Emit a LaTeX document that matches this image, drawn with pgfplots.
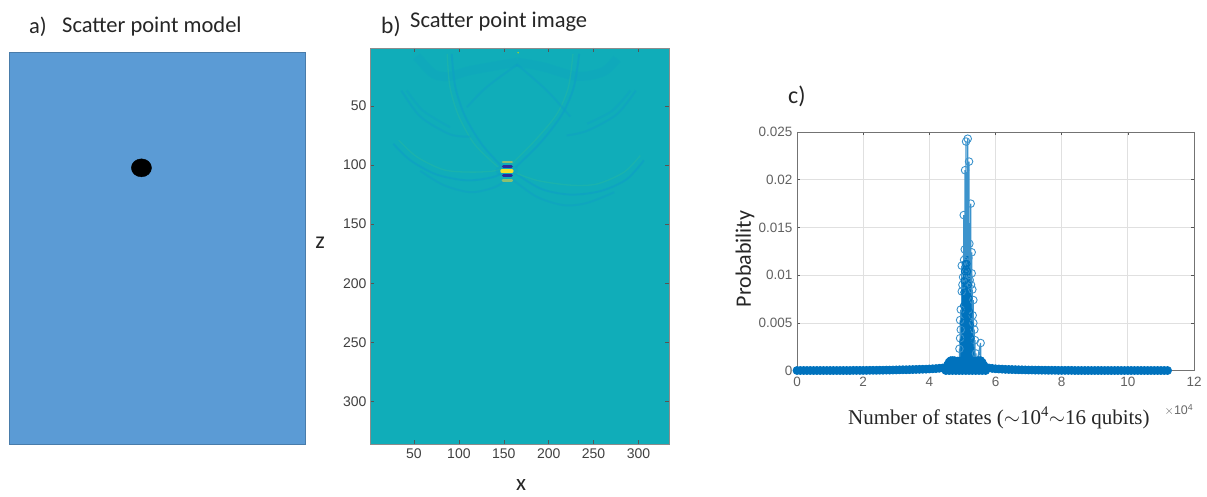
\documentclass[border=0pt]{standalone}
\usepackage{pgfplots}
\pgfplotsset{compat=1.18}
\usepackage{fontspec}
\setmainfont{Carlito}
\newfontfamily\ticks{Liberation Sans}
\newfontfamily\serifl{Liberation Serif}
\definecolor{modelblue}{HTML}{5B9BD5}
\definecolor{teal0}{HTML}{10ADB9}
\definecolor{arcd}{HTML}{0E9FC6}
\definecolor{arcl}{HTML}{22B6A6}
\definecolor{mblue}{HTML}{0072BD}
\definecolor{mlight}{HTML}{3C93CC}
\definecolor{tickgray}{HTML}{555555}
\definecolor{fringe}{HTML}{8CC070}
\definecolor{core}{HTML}{2B2A9A}
\definecolor{hot}{HTML}{F5E02A}
\pgfplotsset{
  a/.style={no marks,smooth,arcd,line width=2pt,opacity=.6},
  l/.style={no marks,smooth,arcl,line width=1.3pt,opacity=.6},
  blob/.style={no marks,line cap=round}
}
\begin{document}
\begin{tikzpicture}[x=1pt,y=1pt]
\path (0,0) rectangle (1207,497);
% panel a
\begin{axis}[at={(9pt,53pt)},anchor=south west,scale only axis,width=296pt,height=392pt,
  xmin=1,xmax=334,ymin=1,ymax=336,y dir=reverse,ticks=none,
  axis background/.style={fill=modelblue},axis line style={draw=modelblue!80!black,line width=.4pt}]
\addplot[only marks,mark=*,mark size=9pt,mark options={xscale=1.12,fill=black,draw=black}] coordinates {(150,100)};
\end{axis}
% panel b
\begin{axis}[at={(370pt,53pt)},anchor=south west,scale only axis,width=299pt,height=396pt,
  xmin=1,xmax=334,ymin=1,ymax=336,y dir=reverse,
  xtick={50,100,...,300},ytick={50,100,...,300},
  tick align=inside,major tick length=4pt,
  every tick/.style={draw=tickgray,line width=.5pt},
  axis background/.style={fill=teal0},axis line style={draw=black!45,line width=.6pt},
  /pgf/number format/assume math mode=true,
  tick label style={font=\ticks\fontsize{14}{16}\selectfont,text=black!75},
  xticklabel style={yshift=-1pt},
  clip=true]
\addplot[a,line width=9pt,opacity=.22] coordinates {(53,8)(72,23)(90,25)(113,20)(165,13)};
\addplot[a,line width=9pt,opacity=.22] coordinates {(276,10)(261,21)(232,25)(194,17)(165,13)};
\addplot[a] coordinates {(92,6)(96,34)(107,59)(126,83)(150,103)};
\addplot[l] coordinates {(87,6)(90,34)(100,59)(118,83)(144,102)};
\addplot[a] coordinates {(234,6)(228,34)(215,57)(191,81)(163,102)};
\addplot[l] coordinates {(227,6)(222,34)(209,57)(185,79)(159,99)};
\addplot[a] coordinates {(27,82)(46,96)(75,108)(109,113)(139,110)(157,103)};
\addplot[l] coordinates {(33,79)(53,93)(83,104)(113,106)(139,105)(150,102)};
\addplot[a,opacity=.45] coordinates {(57,105)(83,117)(113,123)(139,119)(154,112)};
\addplot[a] coordinates {(306,96)(287,112)(258,122)(224,125)(191,120)(159,105)};
\addplot[l] coordinates {(302,92)(284,106)(254,116)(224,117)(187,113)(161,106)};
\addplot[a,opacity=.45] coordinates {(273,123)(243,132)(217,134)(187,127)(161,113)};
\addplot[a,opacity=.45] coordinates {(36,37)(57,59)(90,74)(113,76)};
\addplot[a,opacity=.35] coordinates {(42,37)(60,54)(90,68)};
\addplot[a,opacity=.45] coordinates {(297,37)(276,57)(243,71)(220,75)};
\addplot[a,opacity=.35] coordinates {(291,37)(271,54)(243,65)};
\addplot[a,opacity=.45] coordinates {(165,15)(131,34)(109,51)};
\addplot[a,opacity=.45] coordinates {(165,15)(198,37)(224,59)};
\addplot[blob,color=arcd,line width=9pt,opacity=.35] coordinates {(146,105)(161,105)};
\addplot[blob,color=fringe,line width=2.4pt] coordinates {(149,97.6)(159,97.6)};
\addplot[blob,color=fringe,line width=2.4pt] coordinates {(149,113)(159,113)};
\addplot[blob,color=core,line width=2.8pt] coordinates {(149.5,101.3)(158.5,101.3)};
\addplot[blob,color=core,line width=2.8pt] coordinates {(149.5,109)(158.5,109)};
\addplot[blob,color=hot,line width=3.4pt] coordinates {(148,105.2)(159,105.2)};
\addplot[only marks,mark=*,mark size=.5pt,color=yellow!70!green] coordinates {(166,5)};
\end{axis}
% panel c
\begin{axis}[at={(797pt,126.3pt)},anchor=south west,scale only axis,width=397pt,height=238.7pt,
  xmin=0,xmax=120000,ymin=0,ymax=0.025,
  xtick={0,20000,40000,60000,80000,100000,120000},xticklabels={0,2,4,6,8,10,12},
  ytick={0,0.005,0.01,0.015,0.02,0.025},yticklabels={0,0.005,0.01,0.015,0.02,0.025},
  scaled ticks=false,grid=major,
  grid style={draw=black!12,line width=.8pt},
  tick align=inside,major tick length=3pt,
  every tick/.style={draw=tickgray,line width=.5pt},
  axis line style={draw=black!55,line width=.8pt},
  /pgf/number format/assume math mode=true,
  tick label style={font=\ticks\fontsize{13.5}{15}\selectfont,text=black!62},
  xticklabel style={yshift=-3pt},yticklabel style={xshift=-1pt},
  clip=false]
% stems of the central peak
\addplot[mlight,line width=1.2pt,mark=o,mark size=3.8pt,mark options={line width=.9pt,draw=mlight}] coordinates {
(49100,.0023)(49150,.0005)(49300,.0034)(49350,.0005)(49300,.0053)(49400,.0005)(49500,.0043)(49550,.0005)(49500,.0064)(49600,.0005)
(49800,.0083)(49850,.0005)(49800,.0110)(49900,.0005)(50000,.0090)(50050,.0005)(50200,.0098)(50250,.0005)(50400,.0163)(50450,.0005)
(50500,.0116)(50550,.0005)(50700,.0127)(50750,.0005)(50800,.0210)(50850,.0005)(50900,.0105)(50950,.0005)(51100,.0240)(51150,.0005)
(51200,.0108)(51250,.0005)(51300,.0120)(51350,.0005)(51600,.0243)(51650,.0005)(51700,.0100)(51750,.0005)(51800,.0118)(51850,.0005)
(52000,.0219)(52050,.0005)(52100,.0133)(52150,.0005)(52200,.0095)(52250,.0005)(52500,.0175)(52550,.0005)(52600,.0090)(52650,.0005)
(52800,.0124)(52850,.0005)(52800,.0102)(52900,.0005)(53000,.0085)(53050,.0005)(53100,.0058)(53150,.0005)(53300,.0074)(53350,.0005)
(53300,.0050)(53400,.0005)(53600,.0043)(53650,.0005)(53800,.0032)(53850,.0005)(54100,.0018)(54150,.0005)(55500,.0029)(55550,.0005)};
% dense core
\addplot[mblue,line width=1.8pt,no marks] coordinates {
(49600,.001)(49700,.0035)(49800,.001)(49900,.0055)(50000,.001)(50100,.0085)(50200,.001)(50300,.0095)(50400,.001)(50500,.0105)
(50600,.001)(50700,.0110)(50800,.001)(50900,.0115)(51000,.001)(51100,.0118)(51200,.001)(51300,.0120)(51400,.001)(51500,.0120)
(51600,.001)(51700,.0115)(51800,.001)(51900,.0110)(52000,.001)(52100,.0105)(52200,.001)(52300,.0085)(52400,.001)(52500,.0075)
(52600,.001)(52700,.0060)(52800,.001)(52900,.0045)(53000,.001)(53100,.0035)(53200,.001)(53300,.0025)(53400,.001)};
\addplot[only marks,mark=o,mark size=3.4pt,mark options={line width=.9pt,draw=mblue}] coordinates {
(50200,.0030)(50300,.0050)(50400,.0068)(50500,.0082)(50600,.0094)(50700,.0104)(50900,.0112)(51100,.0106)(51300,.0112)(51500,.0104)
(51700,.0090)(51900,.0076)(52100,.0062)(52300,.0048)(52500,.0034)(50800,.0060)(51000,.0080)(51200,.0070)(51400,.0056)(51600,.0036)(51800,.0044)(52000,.0030)};
% the band of all other states
\addplot[mblue,line width=1pt,mark=*,mark size=4pt,mark options={line width=.8pt,draw=mblue,fill=mblue}] coordinates {
(0,.00002)(1000,.00002)(2000,.00002)(3000,.00002)(4000,.00002)(5000,.00002)(6000,.00002)(7000,.00002)(8000,.00002)(9000,.00002)
(10000,.00002)(11000,.00002)(12000,.00002)(13000,.00002)(14000,.00002)(15000,.00002)(16000,.00002)(17000,.00003)(18000,.00003)(19000,.00003)
(20000,.00003)(21000,.00003)(22000,.00004)(23000,.00004)(24000,.00004)(25000,.00005)(26000,.00005)(27000,.00006)(28000,.00006)(29000,.00007)
(30000,.00008)(31000,.00009)(32000,.0001)(33000,.0001)(34000,.00011)(35000,.00012)(36000,.00013)(37000,.00014)(38000,.00015)(39000,.00016)
(40000,.00018)(41000,.0002)(42000,.00022)(43000,.00025)(44000,.00028)(45000,.00035)(45500,.0006)(46000,.0009)(46500,.00105)(47000,.00105)
(47500,.00105)(48000,.001)(48500,.001)(49000,.001)(49500,.001)(50000,.001)(50500,.001)(51000,.001)(51500,.001)(52000,.001)
(52500,.001)(53000,.001)(53500,.001)(54000,.001)(54500,.001)(55000,.00105)(55500,.00105)(56000,.00085)(56500,.00055)(57000,.00035)
(58000,.00028)(59000,.00024)(60000,.0002)(61000,.00018)(62000,.00016)(63000,.00014)(64000,.00013)(65000,.00012)(66000,.00011)(67000,.0001)
(68000,.00009)(69000,.00008)(70000,.00007)(71000,.00007)(72000,.00006)(73000,.00006)(74000,.00005)(75000,.00005)(76000,.00004)(77000,.00004)
(78000,.00004)(79000,.00003)(80000,.00003)(81000,.00003)(82000,.00003)(83000,.00003)(84000,.00002)(85000,.00002)(86000,.00002)(87000,.00002)
(88000,.00002)(89000,.00002)(90000,.00002)(91000,.00002)(92000,.00002)(93000,.00002)(94000,.00002)(95000,.00002)(96000,.00002)(97000,.00002)
(98000,.00002)(99000,.00002)(100000,.00002)(101000,.00002)(102000,.00002)(103000,.00002)(104000,.00002)(105000,.00002)(106000,.00002)(107000,.00002)
(108000,.00002)(109000,.00002)(110000,.00002)(111000,.00002)(112000,.00002)};
% states at the foot of the hump
\addplot[only marks,mark=*,mark size=4pt,mark options={line width=.8pt,draw=mblue,fill=mblue}] coordinates {
(45000,.00002)(46000,.00002)(47000,.00002)(48000,.00002)(49000,.00002)(50000,.00002)(51000,.00002)(52000,.00002)(53000,.00002)(54000,.00002)(55000,.00002)(56000,.00002)(57000,.00002)
(46000,.0005)(47000,.0005)(48000,.0005)(49000,.0005)(50000,.0005)(51000,.0005)(52000,.0005)(53000,.0005)(54000,.0005)(55000,.0005)(56000,.0005)};
\end{axis}
% titles and labels
\node[anchor=west,inner sep=0pt,font=\fontsize{22.5}{24}\selectfont,text=black!85] at (29,470) {a)};
\node[anchor=west,inner sep=0pt,font=\fontsize{22.5}{24}\selectfont,text=black!85] at (62,470) {Scatter point model};
\node[anchor=west,inner sep=0pt,font=\fontsize{23.5}{24}\selectfont,text=black!85] at (381,470) {b)};
\node[anchor=west,inner sep=0pt,font=\fontsize{22.5}{24}\selectfont,text=black!85] at (410,475) {Scatter point image};
\node[anchor=west,inner sep=0pt,font=\fontsize{24}{26}\selectfont,text=black!85] at (788,401) {c)};
\node[font=\fontsize{24}{26}\selectfont,text=black!85] at (320,254) {z};
\node[anchor=base,inner sep=0pt,font=\fontsize{23}{25}\selectfont,text=black!85] at (521,6.5) {x};
\node[rotate=90,font=\fontsize{22}{24}\selectfont,text=black!85] at (745,238) {Probability};
\node[anchor=west,inner sep=0pt,font=\serifl\fontsize{21}{24}\selectfont,text=black!85] at (848,79) {Number of states ($\sim$10\textsuperscript{4}$\sim$16 qubits)};
\node[font=\ticks\fontsize{12.5}{14}\selectfont,text=black!60] at (1179,87) {$\times$10\textsuperscript{4}};
\end{tikzpicture}
\end{document}
